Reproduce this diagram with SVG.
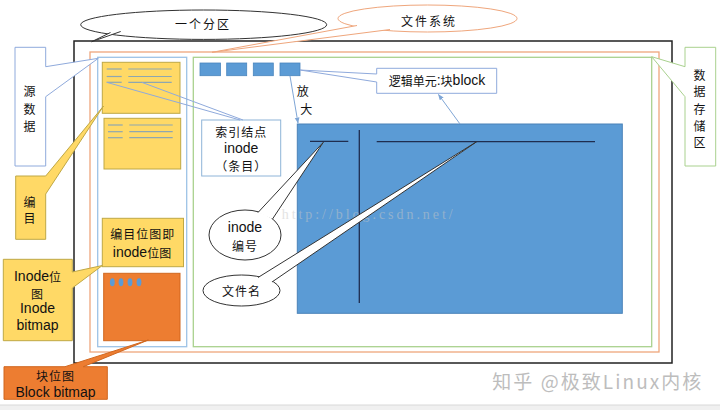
<svg xmlns="http://www.w3.org/2000/svg" width="720" height="410" viewBox="0 0 720 410">
<defs>
<style>
.cn{font-family:"Noto Sans CJK SC","Noto Sans",sans-serif;font-size:12px;fill:#111;text-anchor:middle;dominant-baseline:central;letter-spacing:1px}
.en{font-family:"Liberation Sans",Arial,sans-serif;font-size:14px;fill:#111;text-anchor:middle;dominant-baseline:central}
.mix{font-family:"Liberation Sans","Noto Sans CJK SC",sans-serif;font-size:14px;fill:#111;text-anchor:middle;dominant-baseline:central}
.yel{fill:#FFD966;stroke:#BFA845;stroke-width:1}
.yl{stroke:#8EA7B0;stroke-width:1.2}
.sq{fill:#5B9BD5;stroke:#4A86BE;stroke-width:0.8}
.bl{fill:none;stroke:#8FAADC;stroke-width:1}
.blk{fill:#fff;stroke:#333;stroke-width:1}
.nav{stroke:#1F2D4F;stroke-width:1.3}
</style>
<marker id="arr" viewBox="0 0 10 10" refX="9" refY="5" markerWidth="6" markerHeight="6" orient="auto-start-reverse">
<path d="M0,1 L10,5 L0,9 Z" fill="#7FA6D6"/>
</marker>
</defs>
<rect width="720" height="410" fill="#fff"/>
<rect x="0" y="405" width="720" height="5" fill="#F0F0F0"/>
<line x1="0" y1="405" x2="720" y2="405" stroke="#D8D8D8" stroke-width="1"/>

<!-- frames -->
<g id="partition">
<rect x="74" y="41" width="598" height="322" fill="none" stroke="#222" stroke-width="1.5"/>
</g>
<g id="filesystem">
<rect x="90" y="52" width="569" height="300" fill="none" stroke="#EFA67C" stroke-width="1.3"/>
</g>
<g id="metadata-area">
<rect x="97.7" y="57.3" width="89" height="289.4" fill="none" stroke="#9DC3E6" stroke-width="1.3"/>
</g>
<g id="data-area">
<rect x="193.3" y="57.3" width="458.4" height="289.4" fill="none" stroke="#A9D18E" stroke-width="1.3"/>
</g>

<!-- inode blocks -->
<g id="inode1">
<rect class="yel" x="102.3" y="62.3" width="77.7" height="51"/>
<line class="yl" x1="106.7" y1="69" x2="121.7" y2="69"/>
<line class="yl" x1="106.7" y1="76.5" x2="121.7" y2="76.5"/>
<line class="yl" x1="106.7" y1="82.3" x2="121.7" y2="82.3"/>
<line class="yl" x1="128.3" y1="69" x2="171.7" y2="69"/>
<line class="yl" x1="128.3" y1="76.5" x2="171.7" y2="76.5"/>
<line class="yl" x1="128.3" y1="82.3" x2="171.7" y2="82.3"/>
</g>
<g id="inode2">
<rect class="yel" x="104" y="118.3" width="76.7" height="50.7"/>
<line class="yl" x1="108" y1="125" x2="122.7" y2="125"/>
<line class="yl" x1="108" y1="131.7" x2="122.7" y2="131.7"/>
<line class="yl" x1="108" y1="137.7" x2="122.7" y2="137.7"/>
<line class="yl" x1="129.3" y1="125" x2="172.7" y2="125"/>
<line class="yl" x1="129.3" y1="131.7" x2="172.7" y2="131.7"/>
<line class="yl" x1="129.3" y1="137.7" x2="172.7" y2="137.7"/>
</g>
<g id="inode-bitmap">
<rect class="yel" x="102.3" y="218.3" width="81.2" height="48.4"/>
<text class="cn" x="142.8" y="233.3">编目位图即</text>
<text class="mix" x="142" y="251.7">inode<tspan font-family="Noto Sans CJK SC" font-size="12">位图</tspan></text>
</g>
<g id="block-bitmap">
<rect x="103.7" y="273.3" width="76.3" height="67.4" fill="#ED7D31" stroke="#D0671F" stroke-width="1"/>
<ellipse cx="112.3" cy="282.3" rx="2.4" ry="4" fill="#5B9BD5"/>
<ellipse cx="121" cy="282.3" rx="2.4" ry="4" fill="#5B9BD5"/>
<ellipse cx="130" cy="282.3" rx="2.4" ry="4" fill="#5B9BD5"/>
<ellipse cx="139" cy="282.3" rx="2.4" ry="4" fill="#5B9BD5"/>
</g>

<!-- data blocks -->
<g id="blocks">
<rect class="sq" x="200" y="63" width="20.5" height="12.7"/>
<rect class="sq" x="226.7" y="63" width="20" height="12.7"/>
<rect class="sq" x="253.3" y="63" width="20" height="12.7"/>
<rect class="sq" x="280" y="63" width="20" height="12.7"/>
</g>
<g id="block-zoom">
<rect x="297.3" y="124" width="325" height="189.3" fill="#5B9BD5" stroke="#4A82B8" stroke-width="1"/>
<line class="nav" x1="310" y1="141.3" x2="348.3" y2="141.3"/>
<line class="nav" x1="359.3" y1="130" x2="359.3" y2="303"/>
<line class="nav" x1="376.7" y1="141.7" x2="595" y2="141.7"/>
</g>

<!-- watermark csdn -->
<text x="281.7" y="219" font-family="Liberation Serif,serif" font-size="14" fill="#C8C8C8" opacity="0.5" textLength="171" lengthAdjust="spacing">http://blog.csdn.net/</text>

<!-- connectors -->
<g id="connectors">
<line x1="290" y1="76" x2="298" y2="123" stroke="#7FA6D6" stroke-width="1" marker-end="url(#arr)"/>
<line x1="460" y1="124" x2="438.5" y2="94.5" stroke="#7FA6D6" stroke-width="1" marker-end="url(#arr)"/>
</g>

<!-- callouts -->
<g id="callout-partition">
<ellipse class="blk" cx="203.7" cy="24.7" rx="123" ry="14.7"/>
<path d="M110.5,32.5 L91.7,41.7 L120.7,31.5" fill="#fff" stroke="#333" stroke-width="1"/>
<text class="cn" x="203" y="23.3" style="letter-spacing:2px">一个分区</text>
</g>
<g id="callout-filesystem">
<ellipse cx="427.5" cy="18.5" rx="89.5" ry="13.5" fill="#fff" stroke="#EFA67C" stroke-width="1"/>
<path d="M357,25.5 L212,52.3 L390,29.5" fill="#fff" stroke="#EFA67C" stroke-width="1"/>
<text class="cn" x="429" y="20" style="letter-spacing:2px">文件系统</text>
</g>
<g id="callout-source">
<path d="M15,47.3 H45.7 V66.7 L98.3,58.3 L45.7,96.7 V166 H15 Z" fill="#fff" stroke="#8FAADC" stroke-width="1"/>
<text class="cn" x="30" y="90.7" font-size="13">源</text>
<text class="cn" x="30" y="108.3" font-size="13">数</text>
<text class="cn" x="30" y="125" font-size="13">据</text>
</g>
<g id="callout-catalog">
<path d="M15.7,176 H45.7 L103.5,106 L45.7,194 V239.3 H15.7 Z" class="yel"/>
<text class="cn" x="30" y="201.7">编</text>
<text class="cn" x="30" y="217">目</text>
</g>
<g id="callout-inode-bitmap">
<path d="M3.3,259.3 H72.3 V272 L102.3,265.5 L72.3,288 V340.7 H3.3 Z" class="yel"/>
<text class="mix" x="37.5" y="276">Inode<tspan font-family="Noto Sans CJK SC" font-size="12">位</tspan></text>
<text class="cn" x="37.5" y="293">图</text>
<text class="en" x="37.5" y="308.3">Inode</text>
<text class="en" x="37.5" y="325">bitmap</text>
</g>
<g id="callout-block-bitmap">
<path d="M4,366.7 H65 L148.3,340 L83.3,366.7 H107.3 V399.3 H4 Z" fill="#ED7D31" stroke="#D0671F" stroke-width="1"/>
<text class="cn" x="55.5" y="375">块位图</text>
<text class="en" x="55.5" y="391.5" font-size="13.5">Block bitmap</text>
</g>
<g id="callout-inode">
<rect x="201.7" y="120" width="79" height="56" fill="#fff" stroke="#8EB4D8" stroke-width="1"/>
<line class="bl" x1="106.7" y1="82.3" x2="240" y2="120"/>
<line class="bl" x1="141.7" y1="82.3" x2="243" y2="120"/>
<text class="cn" x="241.2" y="131.7">索引结点</text>
<text class="en" x="241.2" y="148.3">inode</text>
<text class="cn" x="241.2" y="165" font-size="11">（条目）</text>
</g>
<g id="callout-block">
<path d="M376.7,68.3 H496.7 V93.3 H376.7 V82 L300,70 L376.7,74 Z" fill="#fff" stroke="#8FAADC" stroke-width="1"/>
<text class="mix" x="437" y="80.3" font-size="15"><tspan font-family="Noto Sans CJK SC" font-size="12">逻辑单元</tspan>:<tspan font-family="Noto Sans CJK SC" font-size="12">块</tspan>block</text>
</g>
<g id="label-zoom">
<text class="cn" x="303.3" y="90">放</text>
<text class="cn" x="306.7" y="108.3">大</text>
</g>
<g id="callout-data-area">
<path d="M685,47.3 H715.7 V166 H685 V96.7 L651.7,56.7 L685,66.7 Z" fill="#fff" stroke="#A9D18E" stroke-width="1"/>
<text class="cn" x="700" y="74" font-size="13">数</text>
<text class="cn" x="700" y="90.7" font-size="13">据</text>
<text class="cn" x="700" y="108.3" font-size="13">存</text>
<text class="cn" x="700" y="125" font-size="13">储</text>
<text class="cn" x="700" y="141.7" font-size="13">区</text>
</g>
<g id="callout-inode-number">
<ellipse class="blk" cx="245" cy="235" rx="36" ry="25"/>
<path d="M258,212.5 L323.3,142.3 L272.5,219" fill="#fff" stroke="#333" stroke-width="1"/>
<text class="en" x="245" y="226.5">inode</text>
<text class="cn" x="245" y="245">编号</text>
</g>
<g id="callout-filename">
<ellipse class="blk" cx="241.5" cy="290.5" rx="38.5" ry="15.5"/>
<path d="M258,277.5 L476.7,141.7 L272,282" fill="#fff" stroke="#333" stroke-width="1"/>
<text class="cn" x="241.5" y="290.5">文件名</text>
</g>

<!-- watermark -->
<text x="492.3" y="380" font-family="Noto Sans CJK SC,sans-serif" font-size="19" fill="#BDBDBD" dominant-baseline="central" textLength="209" lengthAdjust="spacing">知乎 @极致Linux内核</text>
</svg>
